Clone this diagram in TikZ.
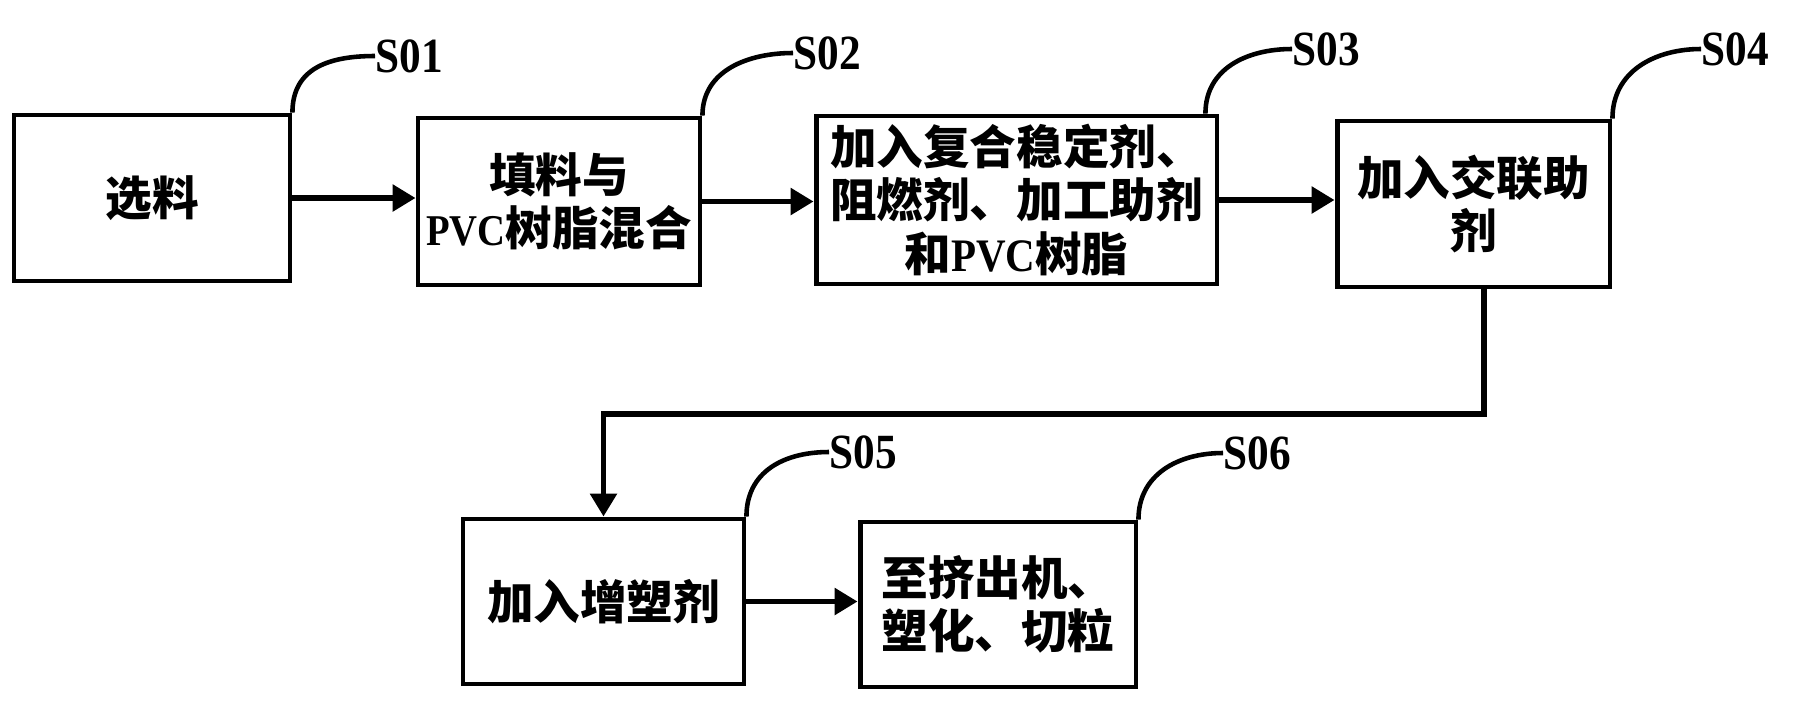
\documentclass[tikz,border=0pt]{standalone}
\usepackage{fontspec}
\newfontfamily\cjk{Noto Sans CJK SC}
\newfontfamily\lat{Liberation Serif}[FakeStretch=0.88]
\usetikzlibrary{arrows.meta,calc}
\begin{document}
\begin{tikzpicture}[x=0.02cm,y=-0.02cm,
  box/.style={draw,line width=2.8pt,inner sep=0pt,align=center,
    font=\fontsize{26.5}{30.5}\selectfont\cjk\bfseries},
  arr/.style={line width=3.2pt,-{Triangle[length=0.46cm,width=0.52cm]}},
  lbl/.style={line width=2.6pt},
  tag/.style={inner sep=0pt,anchor=west,font=\fontsize{28}{32}\selectfont\lat\bfseries}]
\useasboundingbox (0,0) rectangle (1797,708);

\node[box,minimum width=5.52cm,minimum height=3.32cm] (b1) at (152,198) {选料};
\node[box,minimum width=5.64cm,minimum height=3.34cm] (b2) at (559,201.5) {填料与\\{\lat\fontsize{25}{30.5}\selectfont PVC}树脂混合};
\node[box,minimum width=8.02cm,minimum height=3.36cm] (b3) at (1016.5,200) {加入复合稳定剂、\\阻燃剂、加工助剂\\和{\lat PVC}树脂};
\node[box,minimum width=5.46cm,minimum height=3.32cm] (b4) at (1473.5,204) {加入交联助\\剂};
\node[box,minimum width=5.62cm,minimum height=3.30cm] (b5) at (603.5,601.5) {加入增塑剂};
\node[box,minimum width=5.52cm,minimum height=3.30cm] (b6) at (998,604.5) {至挤出机、\\塑化、切粒};

\node[tag] (s1) at (375,56) {S01};
\node[tag] (s2) at (793,53) {S02};
\node[tag] (s3) at (1292,49) {S03};
\node[tag] (s4) at (1701,49) {S04};
\node[tag] (s5) at (829,452) {S05};
\node[tag] (s6) at (1223,453) {S06};

\draw[arr] (b1.east) -- (b1.east -| b2.west);
\draw[arr] (b2.east) -- (b2.east -| b3.west);
\draw[arr] (b3.east) -- (b3.east -| b4.west);
\coordinate (turn) at (1484,414);
\draw[arr] (b4.south -| turn) -- (turn) -| (b5.north);
\draw[arr] (b5.east) -- (b5.east -| b6.west);

\draw[lbl] (b1.north east) .. controls ($(b1.north east)+(0,-45)$) and ($(s1.west)+(-45,0)$) .. (s1.west);
\draw[lbl] (b2.north east) .. controls ($(b2.north east)+(0,-45)$) and ($(s2.west)+(-45,0)$) .. (s2.west);
\coordinate (c3) at ($(b3.north east)+(-14,0)$);
\draw[lbl] (c3) .. controls ($(c3)+(0,-45)$) and ($(s3.west)+(-45,0)$) .. (s3.west);
\draw[lbl] (b4.north east) .. controls ($(b4.north east)+(0,-48)$) and ($(s4.west)+(-45,0)$) .. (s4.west);
\draw[lbl] (b5.north east) .. controls ($(b5.north east)+(0,-45)$) and ($(s5.west)+(-45,0)$) .. (s5.west);
\draw[lbl] (b6.north east) .. controls ($(b6.north east)+(0,-45)$) and ($(s6.west)+(-45,0)$) .. (s6.west);
\end{tikzpicture}
\end{document}
